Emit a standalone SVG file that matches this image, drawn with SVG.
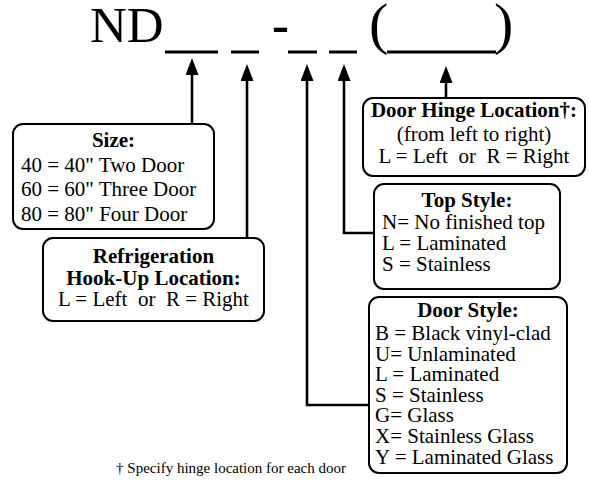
<svg xmlns="http://www.w3.org/2000/svg" width="589" height="480" viewBox="0 0 589 480">
<style>
text{font-family:"Liberation Serif","Times New Roman",serif;fill:#000;white-space:pre}
.t{font-size:21px}
.b{font-size:21px;font-weight:bold;text-anchor:middle}
.m{text-anchor:middle}
.box{fill:#fff;stroke:#000;stroke-width:2}
.con{fill:none;stroke:#000;stroke-width:2.6}
.ul{stroke:#000;stroke-width:3}
</style>
<defs>
<marker id="ah" markerUnits="userSpaceOnUse" markerWidth="18" markerHeight="14" refX="1" refY="6.5" orient="auto">
<path d="M0,0 L17,6.5 L0,13 Z" fill="#000"/>
</marker>
</defs>
<g id="code">
<text x="90" y="42" font-size="51">ND</text>
<text x="272" y="42" font-size="51" font-weight="bold">-</text>
<text x="369" y="43" font-size="58">(</text>
<text x="494" y="43" font-size="58">)</text>
<line class="ul" x1="165" y1="52" x2="218" y2="52"/>
<line class="ul" x1="231" y1="52" x2="259" y2="52"/>
<line class="ul" x1="288" y1="52" x2="317" y2="52"/>
<line class="ul" x1="329" y1="52" x2="357" y2="52"/>
<line class="ul" x1="387" y1="52" x2="496" y2="52"/>
</g>
<g id="connectors">
<path class="con" d="M192,125 V74" marker-end="url(#ah)"/>
<path class="con" d="M247,238 V80" marker-end="url(#ah)"/>
<path class="con" d="M369,405 H307 V80" marker-end="url(#ah)"/>
<path class="con" d="M374,233 H344 V80" marker-end="url(#ah)"/>
<path class="con" d="M446,98 V82" marker-end="url(#ah)"/>
</g>
<g id="size">
<rect class="box" x="13" y="124" width="201" height="105" rx="10"/>
<text class="b" x="113.5" y="147">Size:</text>
<text class="t" x="21" y="172">40 = 40" Two Door</text>
<text class="t" x="21" y="196">60 = 60" Three Door</text>
<text class="t" x="21" y="221">80 = 80" Four Door</text>
</g>
<g id="refrigeration">
<rect class="box" x="43" y="238" width="221" height="83" rx="10"/>
<text class="b" x="153.5" y="263">Refrigeration</text>
<text class="b" x="153.5" y="285">Hook-Up Location:</text>
<text class="t m" x="153.5" y="306">L = Left  or  R = Right</text>
</g>
<g id="hinge">
<rect class="box" x="363" y="98" width="222" height="78" rx="10"/>
<text class="b" x="474" y="117">Door Hinge Location†:</text>
<text class="t m" x="474" y="141">(from left to right)</text>
<text class="t m" x="474" y="163">L = Left  or  R = Right</text>
</g>
<g id="topstyle">
<rect class="box" x="374" y="184" width="186" height="105" rx="10"/>
<text class="b" x="467" y="207">Top Style:</text>
<text class="t" x="382" y="229">N= No finished top</text>
<text class="t" x="382" y="250">L = Laminated</text>
<text class="t" x="382" y="271">S = Stainless</text>
</g>
<g id="doorstyle">
<rect class="box" x="369" y="297" width="198" height="176" rx="10"/>
<text class="b" x="468" y="317">Door Style:</text>
<text class="t" x="375" y="340">B = Black vinyl-clad</text>
<text class="t" x="375" y="361">U= Unlaminated</text>
<text class="t" x="375" y="381">L = Laminated</text>
<text class="t" x="375" y="402">S = Stainless</text>
<text class="t" x="375" y="422">G= Glass</text>
<text class="t" x="375" y="443">X= Stainless Glass</text>
<text class="t" x="375" y="464">Y = Laminated Glass</text>
</g>
<g id="footnote">
<text x="346" y="473" font-size="15" text-anchor="end">† Specify hinge location for each door</text>
</g>
</svg>
